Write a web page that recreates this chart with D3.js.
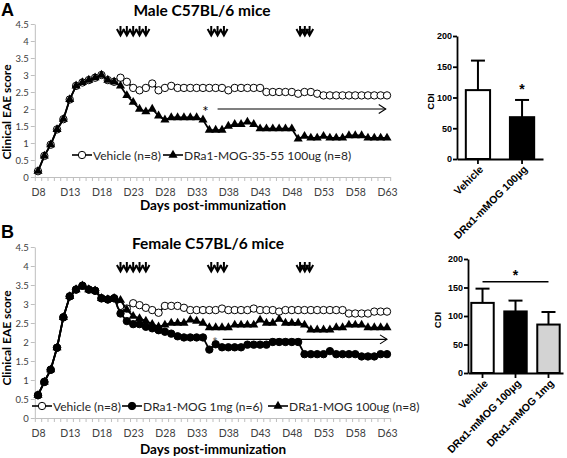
<!DOCTYPE html>
<html><head><meta charset="utf-8">
<script src="https://cdn.jsdelivr.net/npm/d3@7"></script>
<style>body{margin:0;background:#fff}svg{display:block}</style>
</head><body>
<svg id="c" width="567" height="458"></svg>
<script>
// ---------- DATA ----------
const days = d3.range(8, 64);
const xTickDays = [8, 13, 18, 23, 28, 33, 38, 43, 48, 53, 58, 63];
const xTickLabels = xTickDays.map(d => "D" + d);
const yTicks = [0, 0.5, 1, 1.5, 2, 2.5, 3, 3.5, 4, 4.5];

const maleVehicle = [0.17,0.62,0.95,1.4,1.7,2.28,2.68,2.78,2.85,2.92,3.0,2.85,2.8,2.92,2.8,2.62,2.55,2.62,2.75,2.55,2.62,2.68,
  2.62,2.62,2.62,2.62,2.62,2.62,2.62,2.62,2.55,2.62,2.62,2.62,2.62,2.62,2.5,2.5,2.5,2.5,2.5,2.45,2.5,2.5,2.45,
  2.4,2.4,2.4,2.4,2.4,2.4,2.4,2.4,2.4,2.4,2.4];
const maleDRa1 = [0.17,0.62,0.95,1.4,1.7,2.28,2.68,2.78,2.85,2.92,3.0,2.85,2.8,
  2.68,2.4,2.2,2.0,1.92,2.0,1.8,1.68,1.75,1.75,1.75,1.75,1.75,1.68,1.38,1.38,1.38,1.5,1.55,1.55,1.62,1.55,
  1.42,1.42,1.42,1.42,1.42,1.42,1.12,1.2,1.15,1.15,1.2,1.15,1.15,1.15,1.22,1.22,1.22,1.15,1.15,1.15,1.15];

const femaleVehicle = [0.6,0.95,1.27,1.85,2.65,3.2,3.38,3.48,3.38,3.35,3.15,3.12,3.15,
  2.95,2.88,3.02,2.97,2.9,2.84,2.77,2.95,2.95,2.95,2.9,2.84,2.84,2.84,2.84,2.84,2.88,2.84,2.84,2.84,2.84,2.88,
  2.84,2.84,2.84,2.8,2.84,2.84,2.84,2.84,2.84,2.84,2.84,2.84,2.84,2.84,2.75,2.75,2.75,2.75,2.8,2.8,2.8];
const female1mg = [0.6,0.95,1.27,1.85,2.65,3.2,3.38,3.48,3.38,3.35,3.15,3.12,3.15,
  2.75,2.55,2.47,2.47,2.4,2.36,2.31,2.27,2.22,2.15,2.12,2.12,2.12,2.12,1.8,1.94,1.86,1.86,1.86,1.86,1.93,1.93,
  1.93,1.93,2.0,2.0,2.0,2.0,2.0,1.68,1.68,1.68,1.68,1.76,1.68,1.68,1.68,1.68,1.62,1.62,1.62,1.68,1.68];
const female100ug = [0.6,0.95,1.27,1.85,2.65,3.2,3.38,3.48,3.38,3.35,3.15,3.12,3.15,
  3.1,2.85,2.68,2.62,2.55,2.47,2.4,2.45,2.5,2.5,2.5,2.58,2.55,2.5,2.38,2.38,2.38,2.38,2.45,2.45,2.45,2.45,
  2.58,2.5,2.5,2.6,2.5,2.5,2.5,2.45,2.32,2.32,2.32,2.32,2.38,2.38,2.45,2.45,2.45,2.38,2.38,2.38,2.38];

const treatDays = [21, 22, 23, 24, 25, 35.3, 36.3, 37.3, 49.3, 50.05, 50.8];
const maleSig = {star: [34.4, 2.05], arrow: [36.3, 62.8, 2.0]};
const femaleSig = {star: [35.9, 2.1], arrow: [37.1, 63.0, 2.07]};

const cdiMaleCats = ["Vehicle", "DRα1-mMOG 100μg"];
const cdiMaleMean = [112, 68];
const cdiMaleErr = [160, 96];
const cdiMaleFill = ["#ffffff", "#000000"];
const cdiFemaleCats = ["Vehicle", "DRα1-mMOG 100μg", "DRα1-mMOG 1mg"];
const cdiFemaleMean = [123, 108, 85];
const cdiFemaleErr = [148, 127, 107];
const cdiFemaleFill = ["#ffffff", "#000000", "#d3d3d3"];
const cdiTicks = [0, 50, 100, 150, 200];

// ---------- DRAW ----------
const svg = d3.select("#c");
const EX = "Lato, 'Open Sans', sans-serif";
const PR = "'Liberation Sans', Arial, sans-serif";

const x = d3.scaleLinear().domain([8, 63]).range([38, 387]);
const xAxisScale = d3.scaleLinear().domain([7.5, 63.5]).range([x(7.5), x(63.5)]);

function lineChart(cfg) {
  const y = d3.scaleLinear().domain([0, 4.5]).range(cfg.yRange);
  const g = svg.append("g");
  const ya = g.append("g").attr("transform", `translate(${x(7.5)},0)`)
    .call(d3.axisLeft(y).tickValues(yTicks).tickSize(4).tickSizeOuter(0).tickFormat(d => d));
  ya.select(".domain").attr("stroke", "#bfbfbf");
  ya.selectAll(".tick line").attr("stroke", "#bfbfbf");
  ya.selectAll("text").attr("font-family", EX).attr("font-size", 9.5).attr("fill", "#404040").attr("x", -6);
  const xa = g.append("g").attr("transform", `translate(0,${y(0)})`)
    .call(d3.axisBottom(xAxisScale).tickValues(d3.range(7.5, 63.6, 1)).tickSize(4).tickSizeOuter(0).tickFormat(""));
  xa.select(".domain").attr("stroke", "#bfbfbf");
  xa.selectAll(".tick line").attr("stroke", "#bfbfbf");
  const xl = g.append("g").attr("transform", `translate(0,${y(0)})`)
    .call(d3.axisBottom(x).tickValues(xTickDays).tickSize(0).tickFormat((d, i) => xTickLabels[i]));
  xl.select(".domain").remove();
  xl.selectAll("text").attr("font-family", EX).attr("font-size", 10.5).attr("fill", "#404040").attr("dy", "0").attr("y", 19);
  g.append("text").attr("x", 213).attr("y", y(0) + cfg.xtitleDy).attr("text-anchor", "middle")
    .attr("font-family", EX).attr("font-weight", "bold").attr("font-size", 13.5).text("Days post-immunization");
  g.append("text").attr("transform", `translate(${11},${cfg.ytitleY}) rotate(-90)`).attr("text-anchor", "middle")
    .attr("font-family", EX).attr("font-weight", "bold").attr("font-size", 12).text("Clinical EAE score");
  g.append("text").attr("x", cfg.titleX).attr("y", cfg.titleY).attr("text-anchor", "middle")
    .attr("font-family", EX).attr("font-weight", "bold").attr("font-size", 15.5).text(cfg.title);
  g.append("text").attr("x", 1).attr("y", cfg.letterY).attr("font-family", PR).attr("font-weight", "bold")
    .attr("font-size", 18).text(cfg.letter);
  const ay = cfg.arrowY;
  treatDays.forEach(d => {
    const cx = x(d);
    g.append("path").attr("d", `M${cx},${ay}L${cx},${ay + 9}M${cx - 3.6},${ay + 3}L${cx},${ay + 9.5}L${cx + 3.6},${ay + 3}`)
      .attr("stroke", "#000").attr("stroke-width", 2).attr("fill", "none");
  });
  const s = cfg.sig;
  g.append("text").attr("x", x(s.star[0])).attr("y", y(s.star[1]) + cfg.starDy).attr("text-anchor", "middle")
    .attr("font-family", EX).attr("font-size", cfg.starSize).attr("fill", cfg.starColor).text("*");
  g.append("line").attr("x1", x(s.arrow[0])).attr("x2", x(s.arrow[1])).attr("y1", y(s.arrow[2])).attr("y2", y(s.arrow[2]))
    .attr("stroke", "#000").attr("stroke-width", 1.1);
  const ax2 = x(s.arrow[1]), ayy = y(s.arrow[2]);
  g.append("path").attr("d", `M${ax2 - 7},${ayy - 4.5}L${ax2},${ayy}L${ax2 - 7},${ayy + 4.5}`)
    .attr("stroke", "#000").attr("stroke-width", 1.1).attr("fill", "none");
  const line = d3.line().x((d, i) => x(days[i])).y(d => y(d));
  cfg.series.forEach(sr => {
    g.append("path").attr("d", line(sr.values)).attr("fill", "none").attr("stroke", "#000").attr("stroke-width", 1.8);
    drawMarkers(g, sr.type, sr.values.map((v, i) => [x(days[i]), y(v)]));
  });
  cfg.legend.forEach(it => {
    g.append("line").attr("x1", it.x).attr("x2", it.x + 20).attr("y1", it.y).attr("y2", it.y)
      .attr("stroke", "#000").attr("stroke-width", 1.6);
    drawMarkers(g, it.type, [[it.x + 10, it.y]]);
    g.append("text").attr("x", it.x + 21).attr("y", it.y + 4.5).attr("font-family", EX).attr("font-size", 12)
      .attr("fill", "#262626").text(it.label);
  });
}

function drawMarkers(g, type, pts) {
  if (type === "tri") {
    const sym = d3.symbol().type(d3.symbolTriangle).size(36);
    g.append("g").selectAll("path").data(pts).join("path")
      .attr("transform", d => `translate(${d[0]},${d[1]})`).attr("d", sym).attr("fill", "#000");
  } else {
    g.append("g").selectAll("circle").data(pts).join("circle")
      .attr("cx", d => d[0]).attr("cy", d => d[1]).attr("r", 3.7)
      .attr("fill", type === "open" ? "#fff" : "#000").attr("stroke", "#000").attr("stroke-width", 1);
  }
}

lineChart({
  yRange: [177, 24], xtitleDy: 33, ytitleY: 112, title: "Male C57BL/6 mice", titleX: 202, titleY: 16,
  letter: "A", letterY: 16, arrowY: 26, sig: maleSig, starDy: 10, starSize: 15, starColor: "#000",
  series: [{type: "open", values: maleVehicle}, {type: "tri", values: maleDRa1}],
  legend: [{type: "open", x: 72, y: 155, label: "Vehicle (n=8)"},
           {type: "tri", x: 163, y: 155, label: "DRa1-MOG-35-55 100ug (n=8)"}]
});
lineChart({
  yRange: [418, 247], xtitleDy: 36, ytitleY: 338, title: "Female C57BL/6 mice", titleX: 208, titleY: 249,
  letter: "B", letterY: 238, arrowY: 262, sig: femaleSig, starDy: 9, starSize: 13, starColor: "#666",
  series: [{type: "open", values: femaleVehicle}, {type: "tri", values: female100ug}, {type: "filled", values: female1mg}],
  legend: [{type: "open", x: 32, y: 406, label: "Vehicle (n=8)"},
           {type: "filled", x: 122, y: 406, label: "DRa1-MOG 1mg (n=6)"},
           {type: "tri", x: 268, y: 406, label: "DRa1-MOG 100ug (n=8)"}]
});

function barChart(cfg) {
  const y = d3.scaleLinear().domain([0, 200]).range(cfg.yRange);
  const xb = d3.scaleBand().domain(cfg.cats).range(cfg.xRange).paddingInner(cfg.pad).paddingOuter(cfg.padOuter);
  const g = svg.append("g");
  const bw = xb.bandwidth();
  cfg.cats.forEach((c, i) => {
    const cx = xb(c) + bw / 2;
    g.append("line").attr("x1", cx).attr("x2", cx).attr("y1", y(cfg.mean[i])).attr("y2", y(cfg.err[i]))
      .attr("stroke", "#000").attr("stroke-width", 2);
    g.append("line").attr("x1", cx - 7).attr("x2", cx + 7).attr("y1", y(cfg.err[i])).attr("y2", y(cfg.err[i]))
      .attr("stroke", "#000").attr("stroke-width", 2);
    g.append("rect").attr("x", xb(c)).attr("width", bw).attr("y", y(cfg.mean[i])).attr("height", y(0) - y(cfg.mean[i]))
      .attr("fill", cfg.fill[i]).attr("stroke", "#000").attr("stroke-width", 2);
  });
  const ya = g.append("g").attr("transform", `translate(${cfg.xRange[0]},0)`)
    .call(d3.axisLeft(y).tickValues(cdiTicks).tickSize(4).tickSizeOuter(0));
  ya.select(".domain").attr("stroke-width", 1.8);
  ya.selectAll(".tick line").attr("stroke-width", 1.8);
  ya.selectAll("text").attr("font-family", PR).attr("font-weight", "bold").attr("font-size", 9).attr("x", -5);
  const xa = g.append("g").attr("transform", `translate(0,${y(0)})`)
    .call(d3.axisBottom(xb).tickSize(5).tickSizeOuter(0));
  xa.select(".domain").attr("stroke-width", 1.8);
  xa.selectAll(".tick line").attr("stroke-width", 1.8);
  xa.selectAll("text").attr("font-family", PR).attr("font-weight", "bold").attr("font-size", 10.5)
    .attr("text-anchor", "end").attr("dy", 0).attr("y", 0)
    .attr("transform", "translate(6,11) rotate(-45)");
  g.append("text").attr("transform", `translate(${cfg.cdiX},${(cfg.yRange[0] + cfg.yRange[1]) / 2 + 4}) rotate(-90)`)
    .attr("text-anchor", "middle").attr("font-family", PR).attr("font-weight", "bold").attr("font-size", 9.5).text("CDI");
  cfg.extra(g, xb, y);
}

barChart({
  cats: cdiMaleCats, mean: cdiMaleMean, err: cdiMaleErr, fill: cdiMaleFill,
  yRange: [159, 36], xRange: [457, 543], pad: 0.45, padOuter: 0.2, cdiX: 434,
  extra: (g, xb, y) => {
    g.append("text").attr("x", xb(cdiMaleCats[1]) + xb.bandwidth() / 2).attr("y", y(96) - 6).attr("text-anchor", "middle")
      .attr("font-family", PR).attr("font-weight", "bold").attr("font-size", 14).text("*");
  }
});
barChart({
  cats: cdiFemaleCats, mean: cdiFemaleMean, err: cdiFemaleErr, fill: cdiFemaleFill,
  yRange: [373, 259], xRange: [468, 563], pad: 0.32, padOuter: 0.1, cdiX: 441,
  extra: (g, xb, y) => {
    const x1 = xb(cdiFemaleCats[0]) + xb.bandwidth() / 2, x2 = xb(cdiFemaleCats[2]) + xb.bandwidth() / 2;
    g.append("line").attr("x1", x1).attr("x2", x2).attr("y1", y(160)).attr("y2", y(160)).attr("stroke", "#000").attr("stroke-width", 1.5);
    g.append("text").attr("x", (x1 + x2) / 2).attr("y", y(160) - 2).attr("text-anchor", "middle")
      .attr("font-family", PR).attr("font-weight", "bold").attr("font-size", 14).text("*");
  }
});
</script>
</body></html>
